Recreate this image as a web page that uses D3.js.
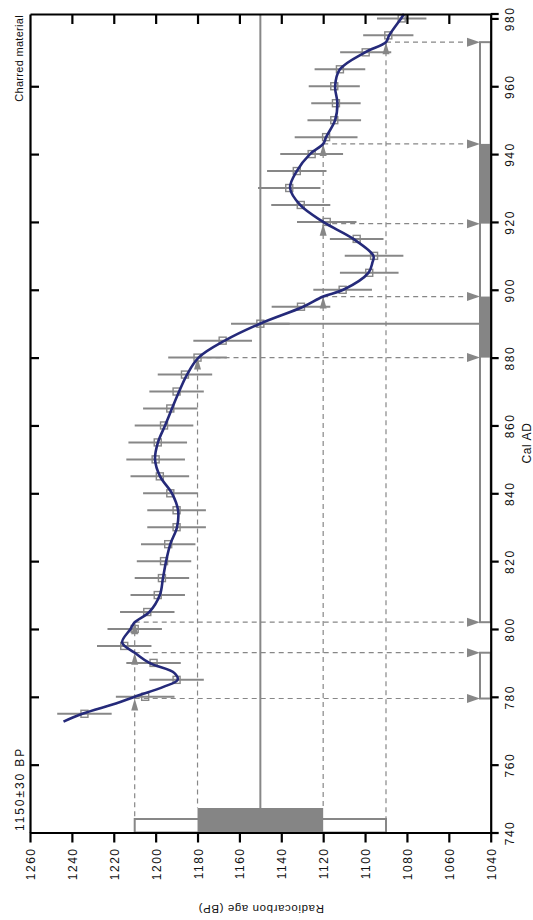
<!DOCTYPE html>
<html>
<head>
<meta charset="utf-8">
<script src="https://cdn.jsdelivr.net/npm/d3@7"></script>
<style>
  body { margin: 0; background: #fff; }
  svg { display: block; font-family: Arial, "Liberation Sans", sans-serif; }
</style>
</head>
<body>
<svg id="chart" width="533" height="920"></svg>
<script>
// calibration curve (cal AD -> BP)
var curveYears = [772.7, 775, 778, 780, 783, 785, 787, 790, 793, 796, 800, 802, 805, 810, 815, 820, 825, 830, 835, 840, 845, 850, 855, 860, 865, 870, 875, 880, 885, 890, 895, 898, 900, 905, 908, 910, 915, 920, 925, 930, 935, 940, 943, 945, 950, 955, 960, 965, 970, 973, 975, 980, 981.3];
var curveBP = [1244, 1235, 1219, 1210, 1196, 1189.5, 1191, 1203, 1210, 1216, 1212, 1210, 1203, 1198, 1196.5, 1195, 1193, 1189.8, 1189.3, 1192.2, 1197.9, 1200.3, 1198.9, 1195.5, 1192.2, 1188.8, 1185, 1179.5, 1167, 1150.2, 1129.5, 1120, 1110.4, 1098.4, 1096.5, 1096, 1105.6, 1120, 1131, 1135.8, 1132.6, 1126.3, 1120, 1118.6, 1114.3, 1113.2, 1114.3, 1112, 1100, 1090, 1088.5, 1082.8, 1081.4];

// measurement points with error
var pointYears = [775, 780, 785, 790, 795, 800, 805, 810, 815, 820, 825, 830, 835, 840, 845, 850, 855, 860, 865, 870, 875, 880, 885, 890, 895, 900, 905, 910, 915, 920, 925, 930, 935, 940, 945, 950, 955, 960, 965, 970, 975, 980];
var pointBP = [1234, 1205, 1190, 1201, 1215, 1210, 1204, 1199, 1197, 1196, 1194, 1190, 1190, 1193, 1198, 1200, 1199, 1196, 1193, 1190, 1186, 1180, 1168, 1150, 1130.6, 1110.7, 1098, 1095.7, 1104, 1118.3, 1130.7, 1136.2, 1132.6, 1125.5, 1118.6, 1114.7, 1113.9, 1114.7, 1112, 1099.7, 1088.9, 1082.5];
var pointErr = [13, 14, 13, 13, 13, 13, 13, 13, 13, 13, 13, 14, 14, 13, 14, 14, 14, 14, 13, 13, 13, 14, 14, 14, 14, 14, 14, 14, 12.8, 14.2, 14.1, 14.9, 14.2, 15, 15, 12.8, 11.8, 12.2, 12.1, 12.2, 12, 11.8];

// sample
var sampleBP = 1150;
var sampleErr = 30;
var sampleLabel = '1150\u00b130 BP';
var materialLabel = 'Charred material';

// calibrated ranges (cal AD)
var range1s = [[880, 898], [919.5, 943]];
var range2s = [[779.5, 793], [802, 973]];
// intercepts: [cal AD, BP level]
var intercepts = [[973, 1090], [943, 1120], [919.5, 1120], [898, 1120], [880, 1180], [802, 1210], [793, 1210], [779.5, 1210]];
var sampleYear = 890;

var bpTicks = [1260, 1240, 1220, 1200, 1180, 1160, 1140, 1120, 1100, 1080, 1060, 1040];
var adTicks = [740, 760, 780, 800, 820, 840, 860, 880, 900, 920, 940, 960, 980];

(function() {
  var svg = d3.select('#chart');
  var mLeft = 30, mRight = 490.7, mTop = 14, mBottom = 832.5;
  var gray = '#878787';
  var navy = '#252a7a';

  var x = d3.scaleLinear().domain([1260, 1040]).range([mLeft, mRight]);
  var y = d3.scaleLinear().domain([740, 981.3]).range([mBottom, mTop]);

  // bottom-left sample boxes
  var box2Top = mBottom - 13.5, box1Top = mBottom - 24.5;
  svg.append('rect')
    .attr('x', x(sampleBP + 2 * sampleErr)).attr('y', box2Top)
    .attr('width', x(sampleBP - 2 * sampleErr) - x(sampleBP + 2 * sampleErr)).attr('height', mBottom - box2Top)
    .attr('fill', '#fff').attr('stroke', gray).attr('stroke-width', 2);
  svg.append('rect')
    .attr('x', x(sampleBP + sampleErr)).attr('y', box1Top)
    .attr('width', x(sampleBP - sampleErr) - x(sampleBP + sampleErr)).attr('height', mBottom - box1Top)
    .attr('fill', '#858585');

  // dashed level lines (from top intercept down to box)
  var levels = [sampleBP + 2 * sampleErr, sampleBP + sampleErr, sampleBP - sampleErr, sampleBP - 2 * sampleErr];
  levels.forEach(function(b) {
    var ys = intercepts.filter(function(d) { return d[1] === b; }).map(function(d) { return d[0]; });
    var boxTop = Math.abs(b - sampleBP) > sampleErr ? box2Top : box1Top;
    svg.append('line')
      .attr('x1', x(b)).attr('x2', x(b))
      .attr('y1', y(d3.max(ys))).attr('y2', boxTop)
      .attr('stroke', gray).attr('stroke-width', 1.2).attr('stroke-dasharray', '5,4');
  });

  // dashed lines from intercepts to range bars, with arrows
  var barLeft = mRight - 10.7;
  intercepts.forEach(function(d) {
    var yy = y(d[0]), xx = x(d[1]);
    svg.append('line')
      .attr('x1', xx).attr('x2', barLeft - 10)
      .attr('y1', yy).attr('y2', yy)
      .attr('stroke', gray).attr('stroke-width', 1.2).attr('stroke-dasharray', '5,4');
    svg.append('path')
      .attr('d', 'M' + barLeft + ',' + yy + 'L' + (barLeft - 13) + ',' + (yy - 4.5) + 'L' + (barLeft - 13) + ',' + (yy + 4.5) + 'Z')
      .attr('fill', gray);
    svg.append('path')
      .attr('d', 'M' + xx + ',' + yy + 'L' + (xx - 3.5) + ',' + (yy + 12) + 'L' + (xx + 3.5) + ',' + (yy + 12) + 'Z')
      .attr('fill', gray);
  });

  // sample mean lines
  svg.append('line')
    .attr('x1', x(sampleBP)).attr('x2', x(sampleBP))
    .attr('y1', mTop).attr('y2', box1Top)
    .attr('stroke', gray).attr('stroke-width', 2);
  svg.append('line')
    .attr('x1', x(sampleBP)).attr('x2', barLeft)
    .attr('y1', y(sampleYear)).attr('y2', y(sampleYear))
    .attr('stroke', gray).attr('stroke-width', 2);

  // calibrated range bars on the right
  range2s.forEach(function(r) {
    svg.append('rect')
      .attr('x', barLeft).attr('y', y(r[1]))
      .attr('width', mRight - barLeft).attr('height', y(r[0]) - y(r[1]))
      .attr('fill', '#fff').attr('stroke', gray).attr('stroke-width', 2);
  });
  range1s.forEach(function(r) {
    svg.append('rect')
      .attr('x', barLeft).attr('y', y(r[1]))
      .attr('width', mRight - barLeft).attr('height', y(r[0]) - y(r[1]))
      .attr('fill', '#858585');
  });

  // error bars and squares
  var pts = pointYears.map(function(t, i) { return {t: t, bp: pointBP[i], e: pointErr[i]}; });
  svg.append('g').selectAll('line').data(pts).enter().append('line')
    .attr('x1', function(d) { return x(d.bp + d.e); })
    .attr('x2', function(d) { return x(d.bp - d.e); })
    .attr('y1', function(d) { return y(d.t); })
    .attr('y2', function(d) { return y(d.t); })
    .attr('stroke', gray).attr('stroke-width', 2);
  svg.append('g').selectAll('rect').data(pts).enter().append('rect')
    .attr('x', function(d) { return x(d.bp) - 3.5; })
    .attr('y', function(d) { return y(d.t) - 3.5; })
    .attr('width', 7).attr('height', 7)
    .attr('fill', 'none').attr('stroke', gray).attr('stroke-width', 1.4);

  // calibration curve
  var line = d3.line()
    .x(function(d, i) { return x(curveBP[i]); })
    .y(function(d) { return y(d); })
    .curve(d3.curveCatmullRom);
  svg.append('path')
    .attr('d', line(curveYears))
    .attr('fill', 'none').attr('stroke', navy).attr('stroke-width', 2.6);

  // axes
  var fmt = d3.format('d');
  var axBottom = svg.append('g').attr('transform', 'translate(0,' + mBottom + ')')
    .call(d3.axisBottom(x).tickValues(bpTicks).tickFormat(fmt).tickSize(10).tickSizeOuter(0));
  axBottom.selectAll('text')
    .attr('x', 0).attr('y', 0).attr('dy', 0)
    .attr('transform', 'translate(4.5,15) rotate(-90)')
    .style('text-anchor', 'end');

  var axRight = svg.append('g').attr('transform', 'translate(' + mRight + ',0)')
    .call(d3.axisRight(y).tickValues(adTicks).tickFormat(fmt).tickSize(8).tickSizeOuter(0));
  axRight.selectAll('text')
    .attr('x', 0).attr('y', 0).attr('dy', 0)
    .attr('transform', 'translate(23.5,0) rotate(-90)')
    .style('text-anchor', 'middle');

  svg.append('g').attr('transform', 'translate(0,' + mTop + ')')
    .call(d3.axisBottom(x).tickValues(bpTicks.slice(1, -1)).tickSize(10).tickSizeOuter(0).tickFormat(''));
  svg.append('g').attr('transform', 'translate(' + mLeft + ',0)')
    .call(d3.axisRight(y).tickValues(adTicks.slice(1, -1)).tickSize(9).tickSizeOuter(0).tickFormat(''));

  svg.selectAll('.domain').attr('stroke', '#000').attr('stroke-width', 2.2);
  svg.selectAll('.tick line').attr('stroke', '#000').attr('stroke-width', 2.2);
  svg.selectAll('.tick text')
    .attr('fill', '#111')
    .style('font-size', '12px')
    .style('letter-spacing', '1.5px')
    .style('font-family', 'Arial, "Liberation Sans", sans-serif');

  // top edge runs past the right axis like the tick marks
  svg.append('line').attr('x1', mRight).attr('x2', mRight + 8).attr('y1', mTop).attr('y2', mTop)
    .attr('stroke', '#000').attr('stroke-width', 2.2);

  // titles
  svg.append('text')
    .attr('transform', 'translate(531,443) rotate(-90)')
    .style('text-anchor', 'middle').style('font-size', '12px').style('letter-spacing', '0.6px')
    .attr('fill', '#111').text('Cal AD');
  svg.append('text')
    .attr('transform', 'translate(261,905) rotate(180)')
    .style('text-anchor', 'middle').style('font-size', '11.5px').style('letter-spacing', '0.6px')
    .attr('fill', '#111').text('Radiocarbon age (BP)');
  svg.append('text')
    .attr('transform', 'translate(23,15) rotate(-90)')
    .style('text-anchor', 'end').style('font-size', '11px').style('letter-spacing', '0.3px')
    .attr('fill', '#111').text(materialLabel);
  svg.append('text')
    .attr('transform', 'translate(24,831) rotate(-90)')
    .style('text-anchor', 'start').style('font-size', '12px').style('letter-spacing', '1.9px')
    .attr('fill', '#111').text(sampleLabel);
})();
</script>
</body>
</html>
